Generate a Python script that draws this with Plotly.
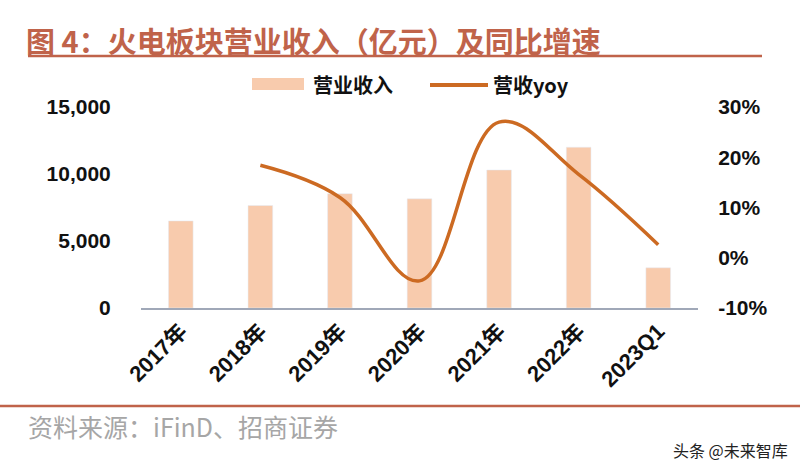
import plotly.graph_objects as go

categories = ["2017年", "2018年", "2019年", "2020年", "2021年", "2022年", "2023Q1"]
revenue = [6500, 7650, 8530, 8150, 10300, 12000, 3000]
yoy_categories = ["2018年", "2019年", "2020年", "2021年", "2022年", "2023Q1"]
yoy = [18.4, 12.0, -4.6, 27.0, 16.6, 2.6]

left_ticks = [0, 5000, 10000, 15000]
left_labels = ["0", "5,000", "10,000", "15,000"]
right_ticks = [-10, 0, 10, 20, 30]
right_labels = ["-10%", "0%", "10%", "20%", "30%"]

W, H = 800, 472
L, R, T, B = 141, 102, 107, 164
PW, PH = W - L - R, H - T - B

def px(x):
    return (x - L) / PW

def py(y):
    return (H - B - y) / PH

TITLE_C = "#C0634A"
BAR_C = "#F8CBAD"
LINE_C = "#CC6A22"
FONT = "Liberation Sans, Noto Sans CJK SC, sans-serif"
CJK = "Noto Sans CJK SC, sans-serif"

fig = go.Figure()
fig.add_trace(go.Bar(x=categories, y=revenue, name="营业收入", marker_color=BAR_C,
                     width=0.31, yaxis="y", showlegend=False))
fig.add_trace(go.Scatter(x=yoy_categories, y=yoy, name="营收yoy", mode="lines",
                         line=dict(color=LINE_C, width=3.5, shape="spline", smoothing=1.1),
                         yaxis="y2", showlegend=False))

fig.update_layout(
    width=W, height=H,
    margin=dict(l=L, r=R, t=T, b=B, pad=0, autoexpand=False),
    paper_bgcolor="white", plot_bgcolor="white",
    showlegend=False,
    xaxis=dict(type="category", range=[-0.5, 6.5], showline=True, linecolor="#A0A8B8",
               linewidth=1.5, tickangle=-45, ticks="", showgrid=False,
               tickfont=dict(family=FONT, size=22, color="#111", weight="bold")),
    yaxis=dict(range=[0, 15000], tickvals=left_ticks, ticktext=left_labels, showgrid=False,
               zeroline=False, showline=False, ticks="outside", ticklen=25,
               tickcolor="rgba(0,0,0,0)",
               tickfont=dict(family=FONT, size=21, color="#111", weight="bold")),
    yaxis2=dict(range=[-10, 30], tickvals=right_ticks, ticktext=right_labels, overlaying="y",
                side="right", showgrid=False, zeroline=False, showline=False,
                ticks="outside", ticklen=15, tickcolor="rgba(0,0,0,0)",
                tickfont=dict(family=FONT, size=21, color="#111", weight="bold")),
)

# custom legend
fig.add_shape(type="rect", xref="paper", yref="paper", x0=px(252), x1=px(304),
              y0=py(90), y1=py(78), line=dict(width=0), fillcolor=BAR_C)
fig.add_annotation(text="营业收入", xref="paper", yref="paper", x=px(311), y=py(84),
                   xanchor="left", yanchor="middle", showarrow=False,
                   font=dict(family=CJK, size=20, color="#111", weight="bold"))
fig.add_shape(type="line", xref="paper", yref="paper", x0=px(430), x1=px(488),
              y0=py(85), y1=py(85), line=dict(color=LINE_C, width=4))
fig.add_annotation(text="营收yoy", xref="paper", yref="paper", x=px(491), y=py(84),
                   xanchor="left", yanchor="middle", showarrow=False,
                   font=dict(family=CJK, size=20, color="#111", weight="bold"))

fig.add_annotation(text="图 4：火电板块营业收入（亿元）及同比增速", xref="paper", yref="paper",
                   x=px(24), y=py(40), xanchor="left", yanchor="middle", showarrow=False,
                   font=dict(family=CJK, size=29, color=TITLE_C, weight="bold"))
fig.add_shape(type="line", xref="paper", yref="paper", x0=px(28), x1=px(762),
              y0=py(56), y1=py(56), line=dict(color=TITLE_C, width=2.5))
fig.add_shape(type="line", xref="paper", yref="paper", x0=px(0), x1=px(800),
              y0=py(406), y1=py(406), line=dict(color=TITLE_C, width=2.5))
fig.add_annotation(text="资料来源：iFinD、招商证券", xref="paper", yref="paper",
                   x=px(26), y=py(426), xanchor="left", yanchor="middle", showarrow=False,
                   font=dict(family=CJK, size=25, color="#A6A6A6"))
fig.add_annotation(text="头条 @未来智库", xref="paper", yref="paper",
                   x=px(790), y=py(450), xanchor="right", yanchor="middle", showarrow=False,
                   font=dict(family=CJK, size=16, color="#222"))

fig.write_html("out.html", config={"displayModeBar": False},
               post_script="document.body.style.margin='0px';")
